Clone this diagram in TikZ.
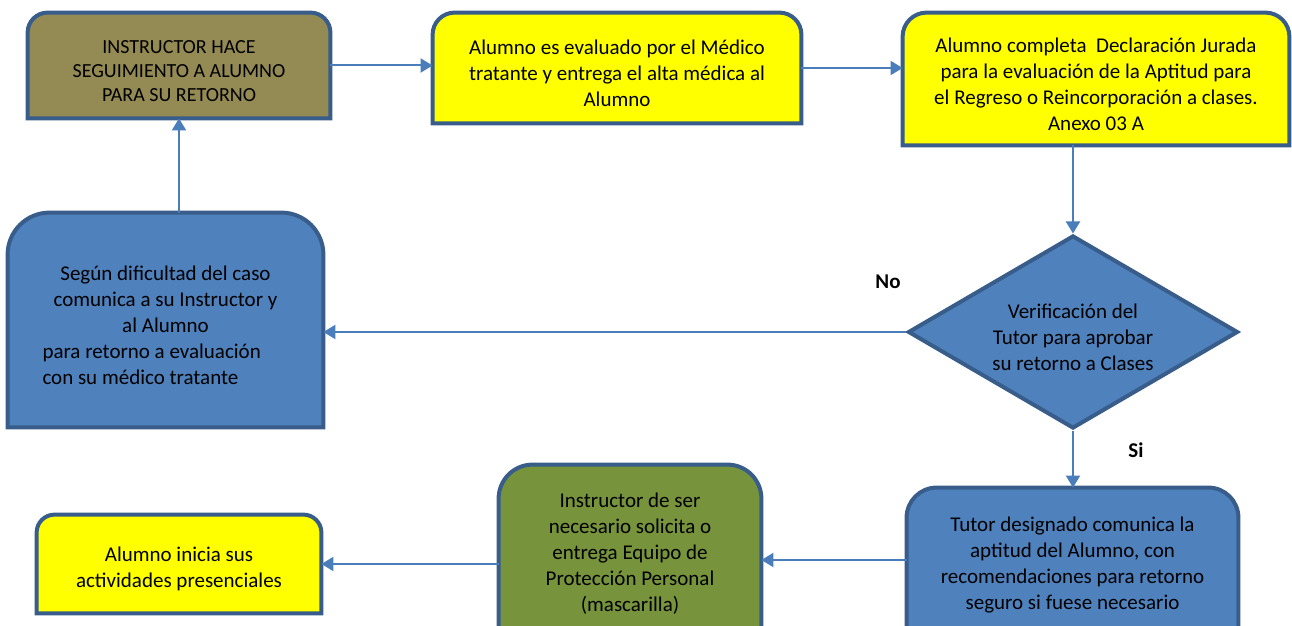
\documentclass[tikz,border=0pt]{standalone}
\usepackage{fontspec}
\setmainfont{Carlito}
\usetikzlibrary{arrows.meta,shapes.geometric,backgrounds}
\definecolor{boxline}{HTML}{385D8A}
\definecolor{arrowblue}{HTML}{4A7EBB}
\definecolor{olivefill}{HTML}{948A54}
\definecolor{bluefill}{HTML}{4F81BD}
\definecolor{greenfill}{HTML}{77933C}
\definecolor{yellowfill}{HTML}{FFFF00}
\tikzset{
  stepnode/.style={inner sep=0pt, align=center, font=\fontsize{10.5}{13}\selectfont},
  arr/.style={-{Triangle[length=6pt,width=7pt]}, draw=arrowblue, line width=1pt},
  answer/.style={font=\fontsize{10.5}{13}\selectfont\bfseries}
}
% strut on the first line, sets the text a bit lower in its box
\newcommand{\toppad}{\rule{0pt}{12.5pt}}
% box with only the two upper corners rounded, drawn behind node #1
\newcommand{\topround}[3]{%
  \draw[draw=boxline, line width=2pt, fill=#3] (#1.south west) -- ([yshift=-#2]#1.north west)
    arc[start angle=180, end angle=90, radius=#2] -- ([xshift=-#2]#1.north east)
    arc[start angle=90, end angle=0, radius=#2] -- (#1.south east) -- cycle;}
\begin{document}
\begin{tikzpicture}[x=0.5pt,y=-0.5pt]
  \useasboundingbox (0,0) rectangle (1292,626);
  % steps
  \node[stepnode, minimum width=151pt, minimum height=52.5pt,
        font=\fontsize{10}{12}\selectfont] (seguimiento) at (179,65.5)
    {\toppad INSTRUCTOR HACE\\SEGUIMIENTO A ALUMNO\\PARA SU RETORNO};
  \node[stepnode, minimum width=184pt, minimum height=55pt] (evaluado) at (617,68)
    {\toppad Alumno es evaluado por el Médico\\tratante y entrega el alta médica al\\Alumno};
  \node[stepnode, minimum width=193pt, minimum height=66pt] (declaracion) at (1096,79)
    {\toppad Alumno completa\ \ Declaración Jurada\\para la evaluación de la Aptitud para\\el Regreso o Reincorporación a clases.\\Anexo 03 A};
  \node[stepnode, shape=diamond, shape aspect=1.7, draw=boxline, line width=2pt, fill=bluefill,
        minimum width=165pt, minimum height=96.5pt] (verificacion) at (1073,332)
    {\toppad Verificación del\\Tutor para aprobar\\su retorno a Clases};
  \node[stepnode, align=left, minimum width=157.5pt, minimum height=107pt] (dificultad) at (165.5,320)
    {\toppad\makebox[123pt]{Según dificultad del caso}\\\makebox[123pt]{comunica a su Instructor y}\\
     \makebox[123pt]{al Alumno}\\para retorno a evaluación\\con su médico tratante};
  \node[stepnode, minimum width=165.5pt, minimum height=72pt] (tutor) at (1072.5,560)
    {\toppad Tutor designado comunica la\\aptitud del Alumno, con\\recomendaciones para retorno\\seguro si fuese necesario};
  \node[stepnode, minimum width=131pt, minimum height=83.5pt] (equipo) at (630,548.5)
    {\toppad Instructor de ser\\necesario solicita o\\entrega Equipo de\\Protección Personal\\(mascarilla)};
  \node[stepnode, minimum width=142pt, minimum height=49pt] (inicia) at (179,564)
    {\toppad Alumno inicia sus\\actividades presenciales};
  \begin{pgfonlayer}{background}
    \topround{seguimiento}{10pt}{olivefill}
    \topround{evaluado}{11pt}{yellowfill}
    \topround{declaracion}{12pt}{yellowfill}
    \topround{dificultad}{21pt}{bluefill}
    \topround{tutor}{15pt}{bluefill}
    \topround{equipo}{17pt}{greenfill}
    \topround{inicia}{9pt}{yellowfill}
  \end{pgfonlayer}
  % answers
  \node[answer] (no) at (888,282) {No};
  \node[answer] (si) at (1136,450) {Si};
  % connectors
  \draw[arr] (seguimiento.east) -- (seguimiento.east -| evaluado.west);
  \draw[arr] (evaluado.east) -- (evaluado.east -| declaracion.west);
  \draw[arr] (verificacion.north |- declaracion.south) -- (verificacion.north);
  \draw[arr] (verificacion.west) -- (verificacion.west -| dificultad.east);
  \draw[arr] (seguimiento.south |- dificultad.north) -- (seguimiento.south);
  \draw[arr] (verificacion.south) -- (verificacion.south |- tutor.north);
  \draw[arr] (tutor.west) -- (tutor.west -| equipo.east);
  \draw[arr] (inicia.east -| equipo.west) -- (inicia.east);
\end{tikzpicture}
\end{document}
